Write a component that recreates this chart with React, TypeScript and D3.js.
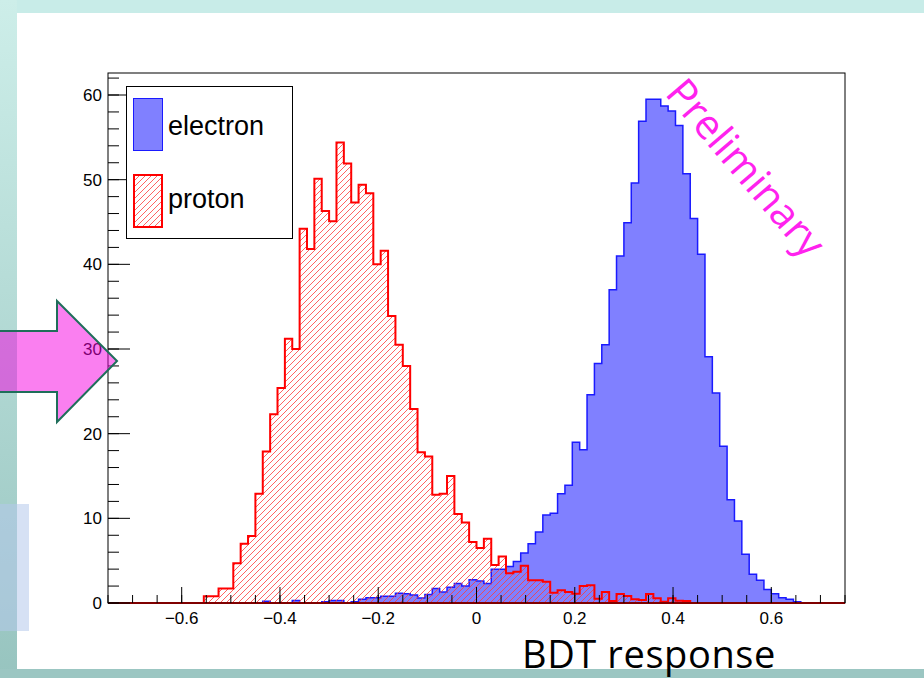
import React from 'react';
import * as d3 from 'd3';

// 100 bins from -0.75 to 0.75
const binLow = -0.75;
const binWidth = 0.015;

const electron = [
  0, 0, 0, 0, 0, 0, 0, 0, 0, 0,
  0, 0, 0, 0, 0, 0, 0, 0, 0, 0,
  0, 0.2, 0, 0, 0, 0.3, 0, 0, 0, 0.16,
  0.31, 0.31, 0, 0.16, 0.43, 0.63, 0.63, 0.79, 0.79, 1.14,
  1.1, 0.94, 0.6, 1.0, 1.7, 1.3, 1.85, 2.3, 2.0, 2.75,
  2.6, 2.3, 4.0, 4.0, 4.3, 4.9, 5.9, 7.0, 8.4, 10.4,
  10.6, 12.9, 13.9, 19.0, 18.1, 24.6, 28.3, 30.5, 37.0, 41.0,
  44.9, 49.6, 56.9, 59.5, 59.5, 58.7, 58.1, 56.4, 50.7, 45.4,
  41.2, 29.1, 24.8, 18.5, 12.2, 9.7, 5.75, 3.4, 2.7, 1.6,
  1.1, 0.63, 0.43, 0.16, 0, 0, 0, 0, 0, 0,
];

const proton = [
  0, 0, 0, 0, 0, 0, 0, 0, 0, 0,
  0, 0, 0, 0.8, 0.8, 1.7, 1.7, 4.7, 7.0, 7.9,
  12.9, 17.9, 22.3, 25.4, 31.2, 30.0, 44.2, 41.8, 50.1, 46.3,
  45.1, 54.4, 51.9, 47.3, 49.4, 48.4, 40.0, 41.6, 33.9, 30.5,
  28.0, 22.9, 17.8, 17.3, 12.8, 12.9, 15.0, 10.5, 9.5, 7.2,
  6.5, 7.6, 4.5, 5.5, 3.5, 3.7, 4.4, 2.7, 2.7, 2.5,
  1.2, 1.5, 1.3, 1.1, 2.0, 2.1, 0.5, 1.3, 0.24, 1.06,
  0.83, 0.43, 0.35, 1.06, 0.55, 0.16, 0.55, 0.28, 0.24, 0,
  0, 0, 0, 0, 0, 0, 0, 0, 0, 0,
  0, 0, 0, 0, 0, 0, 0, 0, 0, 0,
];

const xTicks = [-0.6, -0.4, -0.2, 0, 0.2, 0.4, 0.6];
const yTicks = [0, 10, 20, 30, 40, 50, 60];
const legendLabels = ['electron', 'proton'];

const W = 924;
const H = 678;
const frame = { left: 108, right: 845, top: 73, bottom: 603 };

const x = d3.scaleLinear().domain([-0.75, 0.75]).range([frame.left, frame.right]);
const y = d3.scaleLinear().domain([0, 62.6]).range([frame.bottom, frame.top]);

function histPath(vals: number[]) {
  const pts: [number, number][] = vals.map((v, i) => [binLow + i * binWidth, v]);
  pts.push([binLow + vals.length * binWidth, vals[vals.length - 1]]);
  const line = d3.line<[number, number]>()
    .x(d => x(d[0]))
    .y(d => y(d[1]))
    .curve(d3.curveStepAfter);
  const body = (line(pts) || '').replace(/^M/, 'L');
  return `M${x(binLow)},${y(0)}${body}L${x(binLow + vals.length * binWidth)},${y(0)}Z`;
}

// diagonal "/" hatch lines covering a box, to be clipped
function hatchLines(x0: number, y0: number, x1: number, y1: number, step: number) {
  const h = y1 - y0;
  let d = '';
  for (let s = x0 - h; s < x1; s += step) {
    d += `M${s},${y1}L${s + h},${y0}`;
  }
  return d;
}

const fmt = (v: number) => (v < 0 ? '\u2212' + Math.abs(v) : String(v));

export default function App() {
  const xMinor = d3.range(-0.75, 0.7501, 0.05);
  const yMinor = d3.range(0, 62.6, 2);
  const font = 'Liberation Sans, Arial, sans-serif';
  const protonD = histPath(proton);
  const hatchColor = '#ff3b3b';

  return (
    <svg width={W} height={H} style={{ position: 'absolute', left: 0, top: 0 }}>
      <defs>
        <linearGradient id="leftBand" x1="0" y1="0" x2="0" y2="1">
          <stop offset="0" stopColor="#cdeee9" />
          <stop offset="1" stopColor="#97c4bf" />
        </linearGradient>
        <clipPath id="protonClip">
          <path d={protonD} />
        </clipPath>
        <clipPath id="legendClip">
          <rect x={134} y={175} width={28} height={52} />
        </clipPath>
      </defs>

      {/* slide background */}
      <rect x={0} y={0} width={W} height={H} fill="#fff" />
      <rect x={0} y={0} width={W} height={13} fill="#c8ece8" />
      <rect x={0} y={0} width={17} height={H} fill="url(#leftBand)" />
      <rect x={0} y={504} width={29} height={127} fill="rgba(180,200,235,0.55)" />
      <rect x={0} y={669} width={W} height={9} fill="#9bc6c2" />

      {/* histograms */}
      <path d={histPath(electron)} fill="#8080ff" stroke="#1a1aff" strokeWidth={1.5} />
      <path d={hatchLines(frame.left, frame.top, frame.right, frame.bottom, 6)}
        clipPath="url(#protonClip)" fill="none" stroke={hatchColor} strokeWidth={0.8} />
      <path d={protonD} fill="none" stroke="#ff0000" strokeWidth={2} />

      {/* frame */}
      <rect x={frame.left} y={frame.top} width={frame.right - frame.left} height={frame.bottom - frame.top}
        fill="none" stroke="#000" strokeWidth={1} />

      {/* x axis ticks */}
      {xMinor.map((v, i) => (
        <line key={'xm' + i} x1={x(v)} x2={x(v)} y1={frame.bottom} y2={frame.bottom - 8} stroke="#000" />
      ))}
      {xTicks.map(v => (
        <g key={'x' + v}>
          <line x1={x(v)} x2={x(v)} y1={frame.bottom} y2={frame.bottom - 16} stroke="#000" />
          <text x={x(v)} y={frame.bottom + 21} textAnchor="middle" fontFamily={font} fontSize={17} fill="#000">
            {fmt(v)}
          </text>
        </g>
      ))}

      {/* y axis ticks */}
      {yMinor.map((v, i) => (
        <line key={'ym' + i} x1={frame.left} x2={frame.left + 11} y1={y(v)} y2={y(v)} stroke="#000" />
      ))}
      {yTicks.map(v => (
        <g key={'y' + v}>
          <line x1={frame.left} x2={frame.left + 22} y1={y(v)} y2={y(v)} stroke="#000" />
          <text x={frame.left - 6} y={y(v) + 6} textAnchor="end" fontFamily={font} fontSize={17} fill="#000">
            {v}
          </text>
        </g>
      ))}

      {/* legend */}
      <rect x={126.5} y={86.5} width={166} height={152} fill="#fff" stroke="#000" strokeWidth={1} />
      <rect x={133.5} y={98.5} width={29} height={52} fill="#8080ff" stroke="#1a1aff" strokeWidth={1} />
      <path d={hatchLines(134, 175, 162, 227, 6)} clipPath="url(#legendClip)"
        fill="none" stroke={hatchColor} strokeWidth={0.8} />
      <rect x={134} y={175} width={28} height={52} fill="none" stroke="#ff0000" strokeWidth={2} />
      <text x={168} y={135} fontFamily={font} fontSize={27} fill="#000">{legendLabels[0]}</text>
      <text x={168} y={208} fontFamily={font} fontSize={27} fill="#000">{legendLabels[1]}</text>

      {/* watermark */}
      <text transform="translate(664,94) rotate(49.5)" fontFamily="Open Sans, sans-serif" fontSize={41} fill="#ff22ee">
        Preliminary
      </text>

      {/* axis title */}
      <text x={522} y={668} fontFamily="Open Sans, sans-serif" fontSize={38} letterSpacing={0.6} fill="#000">
        BDT response
      </text>

      {/* slide arrow */}
      <path d="M-5,331 L57,331 L57,301 L117,361 L57,422 L57,392 L-5,392 Z"
        fill="rgba(245,0,225,0.5)" stroke="#1f6e5a" strokeWidth={2} />
    </svg>
  );
}
